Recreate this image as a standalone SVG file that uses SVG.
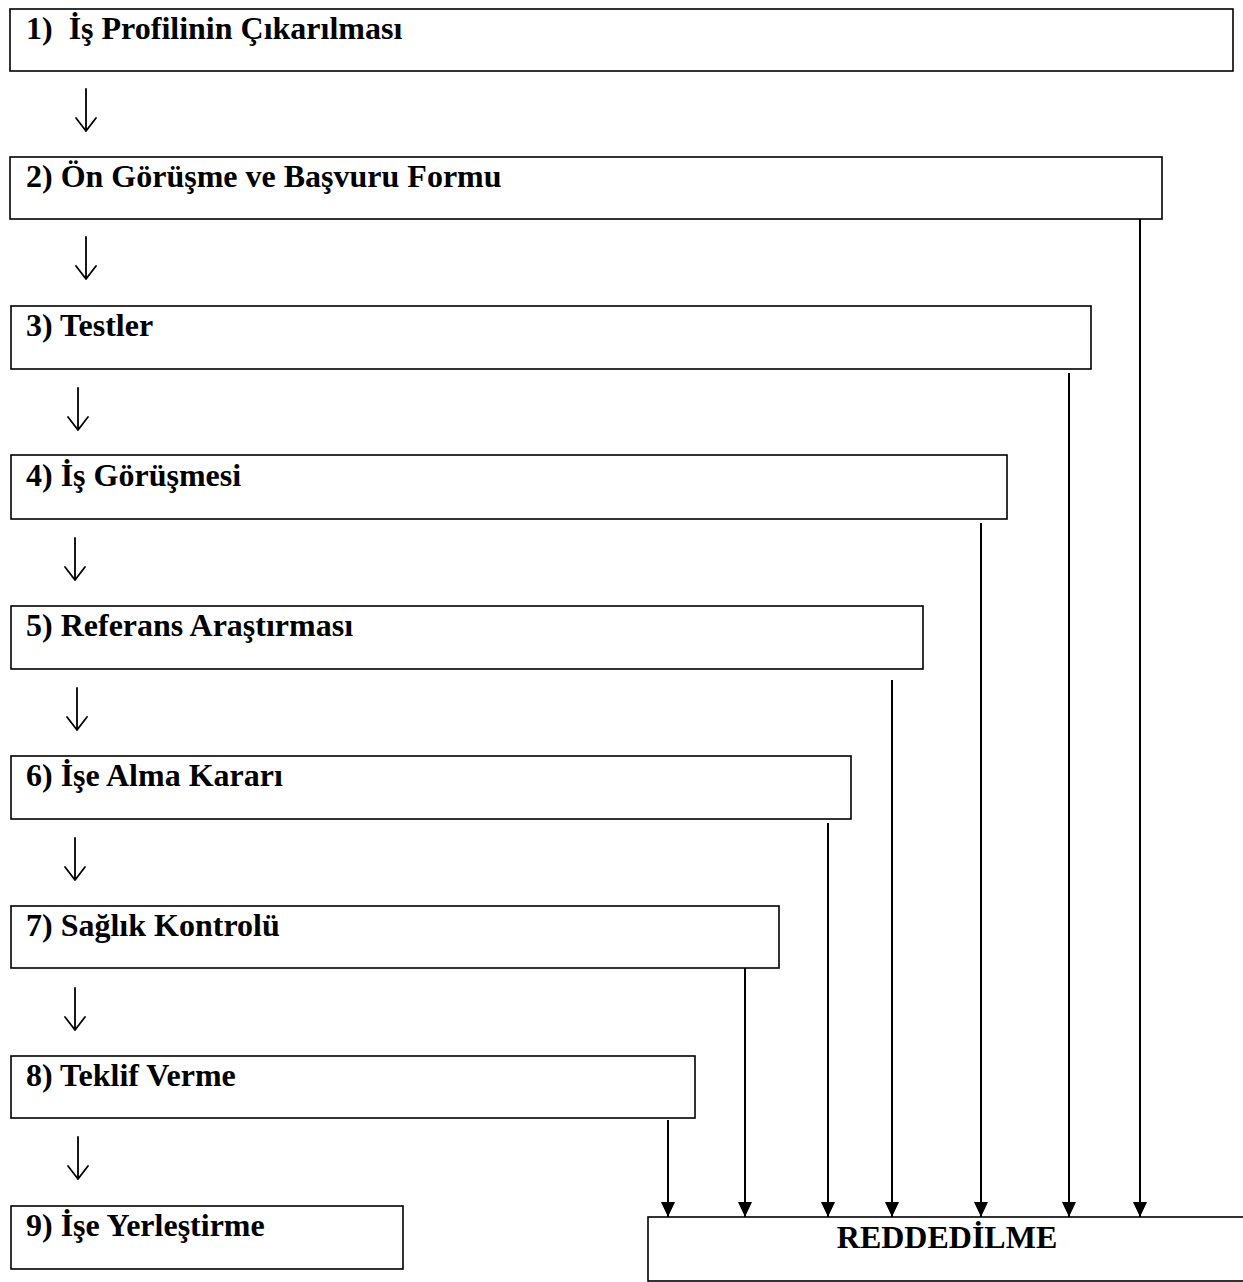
<svg xmlns="http://www.w3.org/2000/svg" width="1243" height="1282" viewBox="0 0 1243 1282">
<defs>
<style>
.box{fill:#fff;stroke:#000;stroke-width:1.6}
.t{font-family:"Liberation Serif","Times New Roman",serif;font-weight:bold;font-size:32px;fill:#000}
.rej{stroke:#000;stroke-width:2;fill:none}
.step{stroke:#000;stroke-width:1.8;fill:none;stroke-linecap:round;stroke-linejoin:round}
</style>
<marker id="tri" markerWidth="15" markerHeight="14" refX="15" refY="7" orient="auto" markerUnits="userSpaceOnUse" viewBox="0 0 15 14">
<path d="M0,0 L15,7 L0,14 Z" fill="#000"/>
</marker>
</defs>
<rect width="1243" height="1282" fill="#fff"/>
<g id="n1"><rect class="box" x="10" y="9" width="1223" height="62"/><text class="t" x="26" y="39" xml:space="preserve">1)  İş Profilinin Çıkarılması</text></g>
<g id="n2"><rect class="box" x="10" y="157" width="1152" height="62"/><text class="t" x="26" y="187">2) Ön Görüşme ve Başvuru Formu</text></g>
<g id="n3"><rect class="box" x="11" y="306" width="1080" height="63"/><text class="t" x="26" y="336">3) Testler</text></g>
<g id="n4"><rect class="box" x="11" y="455" width="996" height="64"/><text class="t" x="26" y="486">4) İş Görüşmesi</text></g>
<g id="n5"><rect class="box" x="11" y="606" width="912" height="63"/><text class="t" x="26" y="636">5) Referans Araştırması</text></g>
<g id="n6"><rect class="box" x="11" y="756" width="840" height="63"/><text class="t" x="26" y="786">6) İşe Alma Kararı</text></g>
<g id="n7"><rect class="box" x="11" y="906" width="768" height="62"/><text class="t" x="26" y="936">7) Sağlık Kontrolü</text></g>
<g id="n8"><rect class="box" x="11" y="1056" width="684" height="62"/><text class="t" x="26" y="1086">8) Teklif Verme</text></g>
<g id="n9"><rect class="box" x="11" y="1206" width="392" height="63"/><text class="t" x="26" y="1236">9) İşe Yerleştirme</text></g>
<g id="rej"><rect class="box" x="648" y="1217" width="600" height="64"/><text class="t" x="947" y="1248" text-anchor="middle">REDDEDİLME</text></g>
<g id="connectors">
<path class="step" d="M86,89 V131 M76,118 L86,131 L96,118"/>
<path class="step" d="M86,237 V279 M76,266 L86,279 L96,266"/>
<path class="step" d="M78,388 V430 M68,417 L78,430 L88,417"/>
<path class="step" d="M75,538 V580 M65,567 L75,580 L85,567"/>
<path class="step" d="M77,688 V730 M67,717 L77,730 L87,717"/>
<path class="step" d="M75,838 V880 M65,867 L75,880 L85,867"/>
<path class="step" d="M75,988 V1030 M65,1017 L75,1030 L85,1017"/>
<path class="step" d="M78,1137 V1179 M68,1166 L78,1179 L88,1166"/>
<line class="rej" x1="1140" y1="219" x2="1140" y2="1217" marker-end="url(#tri)"/>
<line class="rej" x1="1069" y1="373" x2="1069" y2="1217" marker-end="url(#tri)"/>
<line class="rej" x1="981" y1="523" x2="981" y2="1217" marker-end="url(#tri)"/>
<line class="rej" x1="892" y1="680" x2="892" y2="1217" marker-end="url(#tri)"/>
<line class="rej" x1="828" y1="823" x2="828" y2="1217" marker-end="url(#tri)"/>
<line class="rej" x1="745" y1="968" x2="745" y2="1217" marker-end="url(#tri)"/>
<line class="rej" x1="668" y1="1120" x2="668" y2="1217" marker-end="url(#tri)"/>
</g>
</svg>
